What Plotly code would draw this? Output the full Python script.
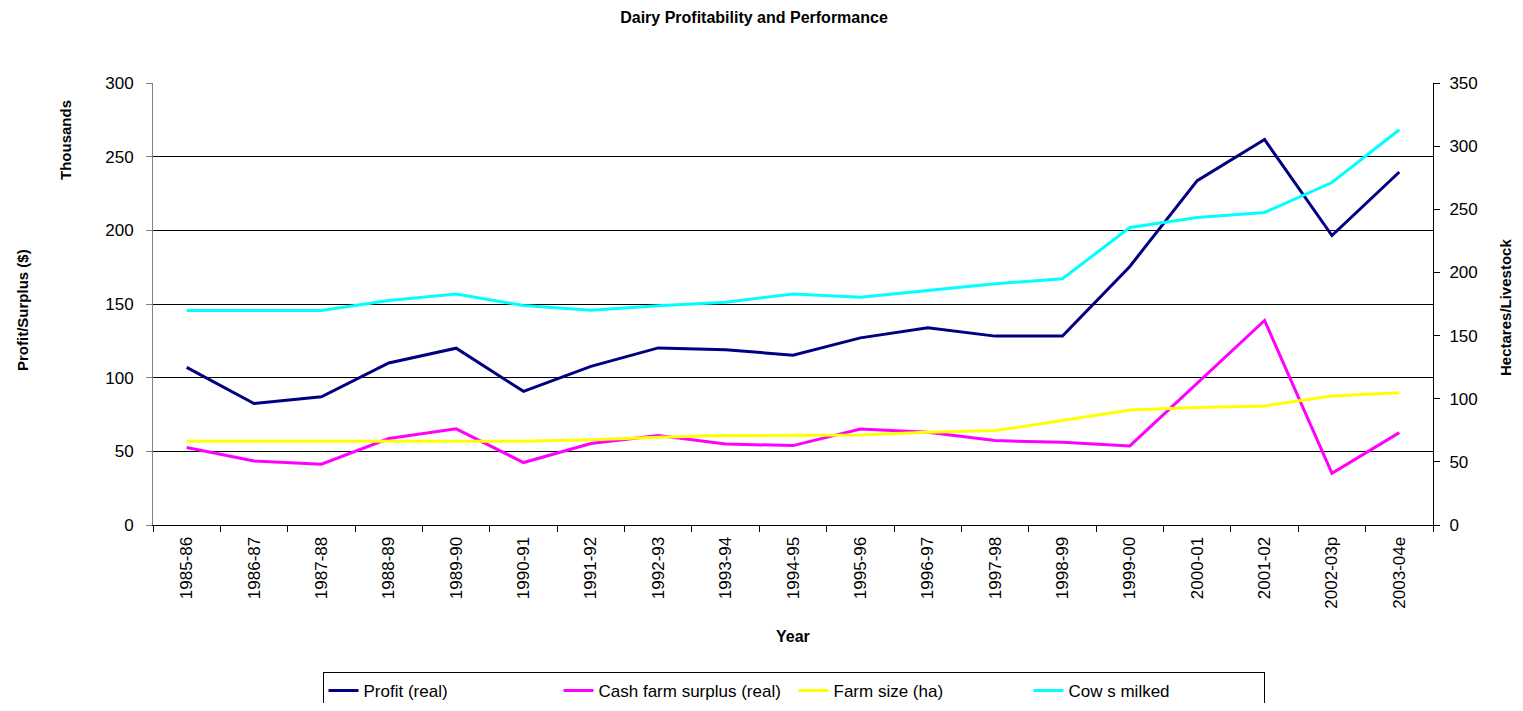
import plotly.graph_objects as go

# Data
years = ["1985-86", "1986-87", "1987-88", "1988-89", "1989-90", "1990-91",
         "1991-92", "1992-93", "1993-94", "1994-95", "1995-96", "1996-97",
         "1997-98", "1998-99", "1999-00", "2000-01", "2001-02", "2002-03p",
         "2003-04e"]

# left axis, $ thousands
profit_real = [107, 82.5, 87, 110, 120, 90.7, 107.7, 120.2, 119, 115.2, 127,
               133.8, 128.2, 128.2, 175.5, 233.7, 261.6, 196.5, 239.6]
cash_surplus_real = [52.6, 43.5, 41.3, 58.7, 65.3, 42.4, 55.3, 60.7, 55, 53.9,
                     65.2, 63, 57.3, 56.1, 53.7, 96.3, 138.8, 35.1, 62.7]

# right axis, hectares / head
farm_size_ha = [66.3, 66.3, 66.3, 66.3, 66.3, 66.3, 67.5, 69.5, 70.8, 70.8,
                71.3, 73.4, 74.8, 82.7, 91.1, 93, 94.3, 102.2, 104.8]
cows_milked = [169.8, 169.8, 169.8, 177.8, 183, 173.8, 170, 173.7, 176.4, 183,
               180.3, 185.6, 191, 195, 235.6, 243.5, 247.5, 271.2, 313]

FONT = "Liberation Sans, Arial, sans-serif"

# the page body adds an 8px margin, so the figure is 16px smaller than the window
W, H = 1507, 695


def paper_pos(px, py):
    # screen pixel -> paper coords of the 1280x442 plot area at (153, 83)
    return (px - 153) / 1280, (525 - py) / 442


fig = go.Figure()

fig.add_trace(go.Scatter(x=years, y=profit_real, name="Profit (real)",
                         mode="lines", line=dict(color="#000080", width=3)))
fig.add_trace(go.Scatter(x=years, y=cash_surplus_real, name="Cash farm surplus (real)",
                         mode="lines", line=dict(color="#FF00FF", width=3)))
fig.add_trace(go.Scatter(x=years, y=farm_size_ha, name="Farm size (ha)",
                         mode="lines", line=dict(color="#FFFF00", width=3),
                         yaxis="y2"))
fig.add_trace(go.Scatter(x=years, y=cows_milked, name="Cow s milked",
                         mode="lines", line=dict(color="#00FFFF", width=3),
                         yaxis="y2"))

# axis titles placed as in the reference
titles = [
    ("<b>Profit/Surplus ($)</b>", 22, 310, -90, 15),
    ("<b>Thousands</b>", 65, 140, -90, 15),
    ("<b>Hectares/Livestock</b>", 1505, 308, -90, 15),
    ("<b>Year</b>", 793, 636, 0, 16),
]
annotations = []
for text, px, py, angle, size in titles:
    ax, ay = paper_pos(px, py)
    annotations.append(dict(text=text, xref="paper", yref="paper", x=ax, y=ay,
                            xanchor="center", yanchor="middle", textangle=angle,
                            showarrow=False, font=dict(size=size)))

fig.update_layout(
    width=W,
    height=H,
    margin=dict(l=145, r=W - 145 - 1280, t=75, b=H - 75 - 442, autoexpand=False),
    paper_bgcolor="white",
    plot_bgcolor="white",
    font=dict(family=FONT, size=17, color="black"),
    title=dict(text="<b>Dairy Profitability and Performance</b>",
               x=(754 - 8) / W, xanchor="center", y=1 - 9 / H, yanchor="middle",
               font=dict(size=16)),
    xaxis=dict(
        type="category",
        tickangle=-90,
        ticks="outside",
        tickson="boundaries",
        ticklen=6,
        tickcolor="black",
        ticklabelstandoff=4,
        showline=True,
        linecolor="black",
        showgrid=False,
        automargin=False,
        range=[-0.5, 18.5],
    ),
    yaxis=dict(
        range=[0, 300],
        dtick=50,
        ticks="outside",
        ticklen=6,
        tickcolor="#808080",
        ticklabelstandoff=9,
        showline=True,
        linecolor="#808080",
        showgrid=True,
        gridcolor="black",
        gridwidth=1,
        zeroline=False,
        automargin=False,
    ),
    yaxis2=dict(
        range=[0, 350],
        dtick=50,
        overlaying="y",
        side="right",
        ticks="outside",
        ticklen=6,
        tickcolor="black",
        ticklabelstandoff=6,
        showline=True,
        linecolor="black",
        showgrid=False,
        zeroline=False,
        automargin=False,
    ),
    legend=dict(
        orientation="h",
        xref="container", yref="container",
        x=((319 + 1268) / 2 - 8) / W, xanchor="center",
        y=1 - (672 - 8) / H, yanchor="top",
        bordercolor="black",
        borderwidth=1,
        entrywidth=190,
        font=dict(size=17),
    ),
    annotations=annotations,
)

fig.write_html("out.html")
